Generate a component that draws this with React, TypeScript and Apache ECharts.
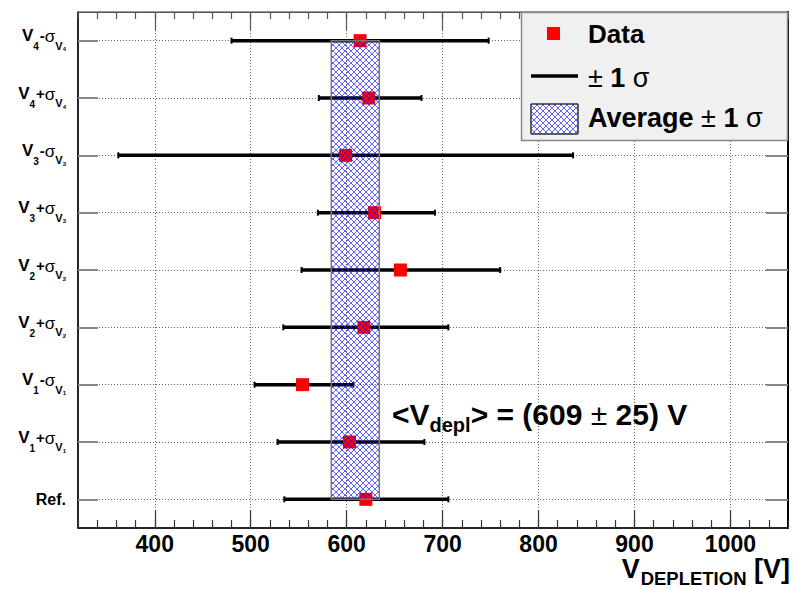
import React, { useEffect, useRef } from 'react';
import * as echarts from 'echarts';

// ---------- data (bottom row first) ----------
const categories = ['Ref.', 'V1+σV1', 'V1-σV1', 'V2+σV2', 'V2+σV2', 'V3+σV3', 'V3-σV3', 'V4+σV4', 'V4-σV4'];
const centralValues = [620, 603, 554, 618, 656, 629, 599, 623, 614];
const lowValues = [535, 528, 504, 534, 553, 570, 362, 571, 480];
const highValues = [706, 681, 607, 706, 760, 692, 836, 678, 748];
const averageValue = 609;
const averageSigma = 25;
const xMin = 320;
const xMax = 1060;
const xMajorTicks = [400, 500, 600, 700, 800, 900, 1000];

const FONT = "'Liberation Sans', Arial, Helvetica, sans-serif";

export default function App() {
  const ref = useRef<HTMLDivElement>(null);

  useEffect(() => {
    const el = ref.current as HTMLDivElement;
    const chart = echarts.init(el, null, { renderer: 'svg' });

    // cross-hatch pattern
    const cv = document.createElement('canvas');
    cv.width = 6;
    cv.height = 6;
    const ctx = cv.getContext('2d') as CanvasRenderingContext2D;
    ctx.strokeStyle = 'rgba(20,20,255,0.95)';
    ctx.lineWidth = 0.7;
    ctx.beginPath();
    for (const o of [-6, 0, 6]) {
      ctx.moveTo(o, 0);
      ctx.lineTo(o + 6, 6);
      ctx.moveTo(o, 6);
      ctx.lineTo(o + 6, 0);
    }
    ctx.stroke();
    const hatch: any = { image: cv, repeat: 'repeat', imageWidth: 6, imageHeight: 6 };

    // y categories with half-step gaps so ticks sit at row centres
    const yCats: string[] = [''];
    categories.forEach((c) => {
      yCats.push(c, '');
    });
    const rowIndex = (k: number) => 2 * k + 1;
    const odd = (i: number) => i % 2 === 1;

    const errData = categories.map((_, k) => [rowIndex(k), lowValues[k], highValues[k]]);
    const pointData = categories.map((_, k) => [centralValues[k], rowIndex(k)]);
    const bandData = [[averageValue - averageSigma, averageValue + averageSigma, rowIndex(0), rowIndex(categories.length - 1)]];

    const yLabelFormatter = (value: string) => {
      if (!value) return '';
      const m = value.match(/^V(\d)([+-])σV(\d)$/);
      if (m) return `{b|V}{s|${m[1]}}{o|${m[2]}}{g|σ}{sv|V}{ss|${m[3]}}`;
      return `{r|${value}}`;
    };

    const option: any = {
      animation: false,
      backgroundColor: '#ffffff',
      grid: {
        left: 78,
        top: 12,
        width: 710,
        height: 516,
        show: true,
        borderColor: '#333',
        borderWidth: 1,
        outerBoundsMode: 'none',
      },
      xAxis: [
        {
          type: 'value',
          position: 'bottom',
          min: xMin,
          max: xMax,
          interval: 20,
          axisLine: { show: true, lineStyle: { color: '#000', width: 1.5 } },
          axisTick: { show: true, inside: true, length: 8, lineStyle: { color: '#333', width: 1.2 } },
          axisLabel: {
            show: true,
            margin: 4,
            fontSize: 23,
            fontWeight: 'bold',
            fontFamily: FONT,
            color: '#000',
            formatter: (v: number) => (xMajorTicks.includes(Math.round(v)) ? String(Math.round(v)) : ''),
          },
          splitLine: {
            show: true,
            lineStyle: {
              color: ['rgba(0,0,0,0)', 'rgba(0,0,0,0)', 'rgba(0,0,0,0)', 'rgba(0,0,0,0)', '#666'],
              type: [1, 2],
              width: 1,
            },
          },
        },
        {
          type: 'value',
          position: 'bottom',
          min: xMin,
          max: xMax,
          axisLine: { show: false },
          axisTick: { show: true, inside: true, length: 18, customValues: xMajorTicks, lineStyle: { color: '#333', width: 1.2 } },
          axisLabel: { show: false },
          splitLine: { show: false },
        },
        {
          type: 'value',
          position: 'top',
          min: xMin,
          max: xMax,
          interval: 20,
          axisLine: { show: true, lineStyle: { color: '#555', width: 1 } },
          axisTick: { show: true, inside: true, length: 7, lineStyle: { color: '#555', width: 1.2 } },
          axisLabel: { show: false },
          splitLine: { show: false },
        },
        {
          type: 'value',
          position: 'top',
          min: xMin,
          max: xMax,
          axisLine: { show: false },
          axisTick: { show: true, inside: true, length: 18, customValues: xMajorTicks, lineStyle: { color: '#555', width: 1.2 } },
          axisLabel: { show: false },
          splitLine: { show: false },
        },
      ],
      yAxis: [
        {
          type: 'category',
          data: yCats,
          boundaryGap: false,
          position: 'left',
          axisLine: { show: true, lineStyle: { color: '#000', width: 1.5 } },
          axisTick: { show: true, inside: true, length: 20, interval: (i: number) => odd(i), lineStyle: { color: '#888', width: 2 } },
          axisLabel: {
            show: true,
            interval: (i: number) => odd(i),
            margin: 12,
            formatter: yLabelFormatter,
            rich: {
              b: { fontSize: 17, fontWeight: 'bold', fontFamily: FONT, color: '#000', verticalAlign: 'middle', padding: [0, 0, 10, 0] },
              s: { fontSize: 10, fontWeight: 'bold', fontFamily: FONT, color: '#000', verticalAlign: 'middle', padding: [12, 1, 0, 0] },
              o: { fontSize: 15, fontWeight: 'bold', fontFamily: FONT, color: '#000', verticalAlign: 'middle', padding: [0, 0, 10, 0] },
              g: { fontSize: 17, fontFamily: FONT, color: '#000', verticalAlign: 'middle', padding: [0, 0, 8, 0] },
              sv: { fontSize: 11, fontWeight: 'bold', fontFamily: FONT, color: '#000', verticalAlign: 'middle', padding: [10, 0, 0, 0] },
              ss: { fontSize: 6, fontWeight: 'bold', fontFamily: FONT, color: '#000', verticalAlign: 'middle', padding: [17, 0, 0, 0] },
              r: { fontSize: 16, fontWeight: 'bold', fontFamily: FONT, color: '#000', verticalAlign: 'middle' },
            },
          },
          splitLine: { show: true, interval: (i: number) => odd(i), lineStyle: { color: '#666', type: [1, 2], width: 1 } },
        },
        {
          type: 'category',
          data: yCats,
          boundaryGap: false,
          position: 'right',
          axisLine: { show: true, lineStyle: { color: '#000', width: 2 } },
          axisTick: { show: true, inside: true, length: 22, interval: (i: number) => odd(i), lineStyle: { color: '#888', width: 2 } },
          axisLabel: { show: false },
          splitLine: { show: false },
        },
      ],
      series: [
        {
          type: 'custom',
          name: 'sigma',
          xAxisIndex: 0,
          yAxisIndex: 0,
          z: 2,
          encode: { x: [1, 2], y: 0 },
          data: errData,
          renderItem: (params: any, api: any) => {
            const yi = api.value(0);
            const a = api.coord([api.value(1), yi]);
            const b = api.coord([api.value(2), yi]);
            return {
              type: 'group',
              children: [
                { type: 'line', shape: { x1: a[0], y1: a[1], x2: b[0], y2: b[1] }, style: { stroke: '#000', lineWidth: 3.5 } },
                { type: 'line', shape: { x1: a[0], y1: a[1] - 3, x2: a[0], y2: a[1] + 3 }, style: { stroke: '#000', lineWidth: 2 } },
                { type: 'line', shape: { x1: b[0], y1: b[1] - 3, x2: b[0], y2: b[1] + 3 }, style: { stroke: '#000', lineWidth: 2 } },
              ],
            };
          },
        },
        {
          type: 'scatter',
          name: 'Data',
          xAxisIndex: 0,
          yAxisIndex: 0,
          z: 3,
          symbol: 'rect',
          symbolSize: 13,
          itemStyle: { color: '#ff0000', opacity: 1 },
          data: pointData,
        },
        {
          type: 'custom',
          name: 'Average',
          xAxisIndex: 0,
          yAxisIndex: 0,
          z: 5,
          encode: { x: [0, 1], y: [2, 3] },
          data: bandData,
          renderItem: (params: any, api: any) => {
            const p1 = api.coord([api.value(0), api.value(3)]);
            const p2 = api.coord([api.value(1), api.value(2)]);
            return {
              type: 'rect',
              shape: { x: p1[0], y: p1[1], width: p2[0] - p1[0], height: p2[1] - p1[1] },
              style: { fill: hatch, stroke: '#777', lineWidth: 1.5 },
            };
          },
        },
      ],
      graphic: [
        // legend
        { type: 'rect', z: 100, shape: { x: 521.5, y: 12.5, width: 266, height: 128 }, style: { fill: '#f0f0f0', stroke: '#888', lineWidth: 1.5 } },
        { type: 'rect', z: 101, shape: { x: 547, y: 27, width: 13, height: 13 }, style: { fill: '#ff0000' } },
        { type: 'line', z: 101, shape: { x1: 531, y1: 76, x2: 578, y2: 76 }, style: { stroke: '#000', lineWidth: 3.5 } },
        { type: 'rect', z: 101, shape: { x: 531, y: 104, width: 47, height: 30 }, style: { fill: '#ffffff', stroke: '#333', lineWidth: 1 } },
        { type: 'rect', z: 102, shape: { x: 531, y: 104, width: 47, height: 30 }, style: { fill: hatch, stroke: '#333', lineWidth: 1 } },
        {
          type: 'text', z: 101, x: 588, y: 34,
          style: { text: 'Data', fontSize: 26, fontWeight: 'bold', fontFamily: FONT, fill: '#000', verticalAlign: 'middle' },
        },
        {
          type: 'text', z: 101, x: 588, y: 78,
          style: {
            text: '{p|±}{b| 1 }{p|σ}', verticalAlign: 'middle', fill: '#000',
            rich: {
              p: { fontSize: 27, fontFamily: FONT, fill: '#000' },
              b: { fontSize: 27, fontWeight: 'bold', fontFamily: FONT, fill: '#000' },
            },
          },
        },
        {
          type: 'text', z: 101, x: 588, y: 118,
          style: {
            text: '{b|Average }{p|±}{b| 1 }{p|σ}', verticalAlign: 'middle', fill: '#000',
            rich: {
              p: { fontSize: 27, fontFamily: FONT, fill: '#000' },
              b: { fontSize: 27, fontWeight: 'bold', fontFamily: FONT, fill: '#000' },
            },
          },
        },
        // annotation
        {
          type: 'text', z: 101, x: 392, y: 414,
          style: {
            text: '{a|<V}{s|depl}{a|> = (609 }{p|±}{a| 25) V}', verticalAlign: 'middle', fill: '#000',
            rich: {
              a: { fontSize: 30, fontWeight: 'bold', fontFamily: FONT, fill: '#000', verticalAlign: 'middle' },
              s: { fontSize: 20, fontWeight: 'bold', fontFamily: FONT, fill: '#000', verticalAlign: 'middle', padding: [21, 0, 0, 0] },
              p: { fontSize: 30, fontFamily: FONT, fill: '#000', verticalAlign: 'middle' },
            },
          },
        },
        // x-axis title
        {
          type: 'text', z: 101, x: 790, y: 569,
          style: {
            text: '{v|V}{s|DEPLETION}{v| [V]}', align: 'right', verticalAlign: 'middle', fill: '#000',
            rich: {
              v: { fontSize: 27, fontWeight: 'bold', fontFamily: FONT, fill: '#000', verticalAlign: 'middle' },
              s: { fontSize: 18.5, fontWeight: 'bold', fontFamily: FONT, fill: '#000', verticalAlign: 'middle', padding: [18, 0, 0, 1] },
            },
          },
        },
      ],
    };

    chart.setOption(option);
    return () => {
      chart.dispose();
    };
  }, []);

  return <div ref={ref} style={{ position: 'fixed', left: 0, top: 0, width: 795, height: 589 }} />;
}
